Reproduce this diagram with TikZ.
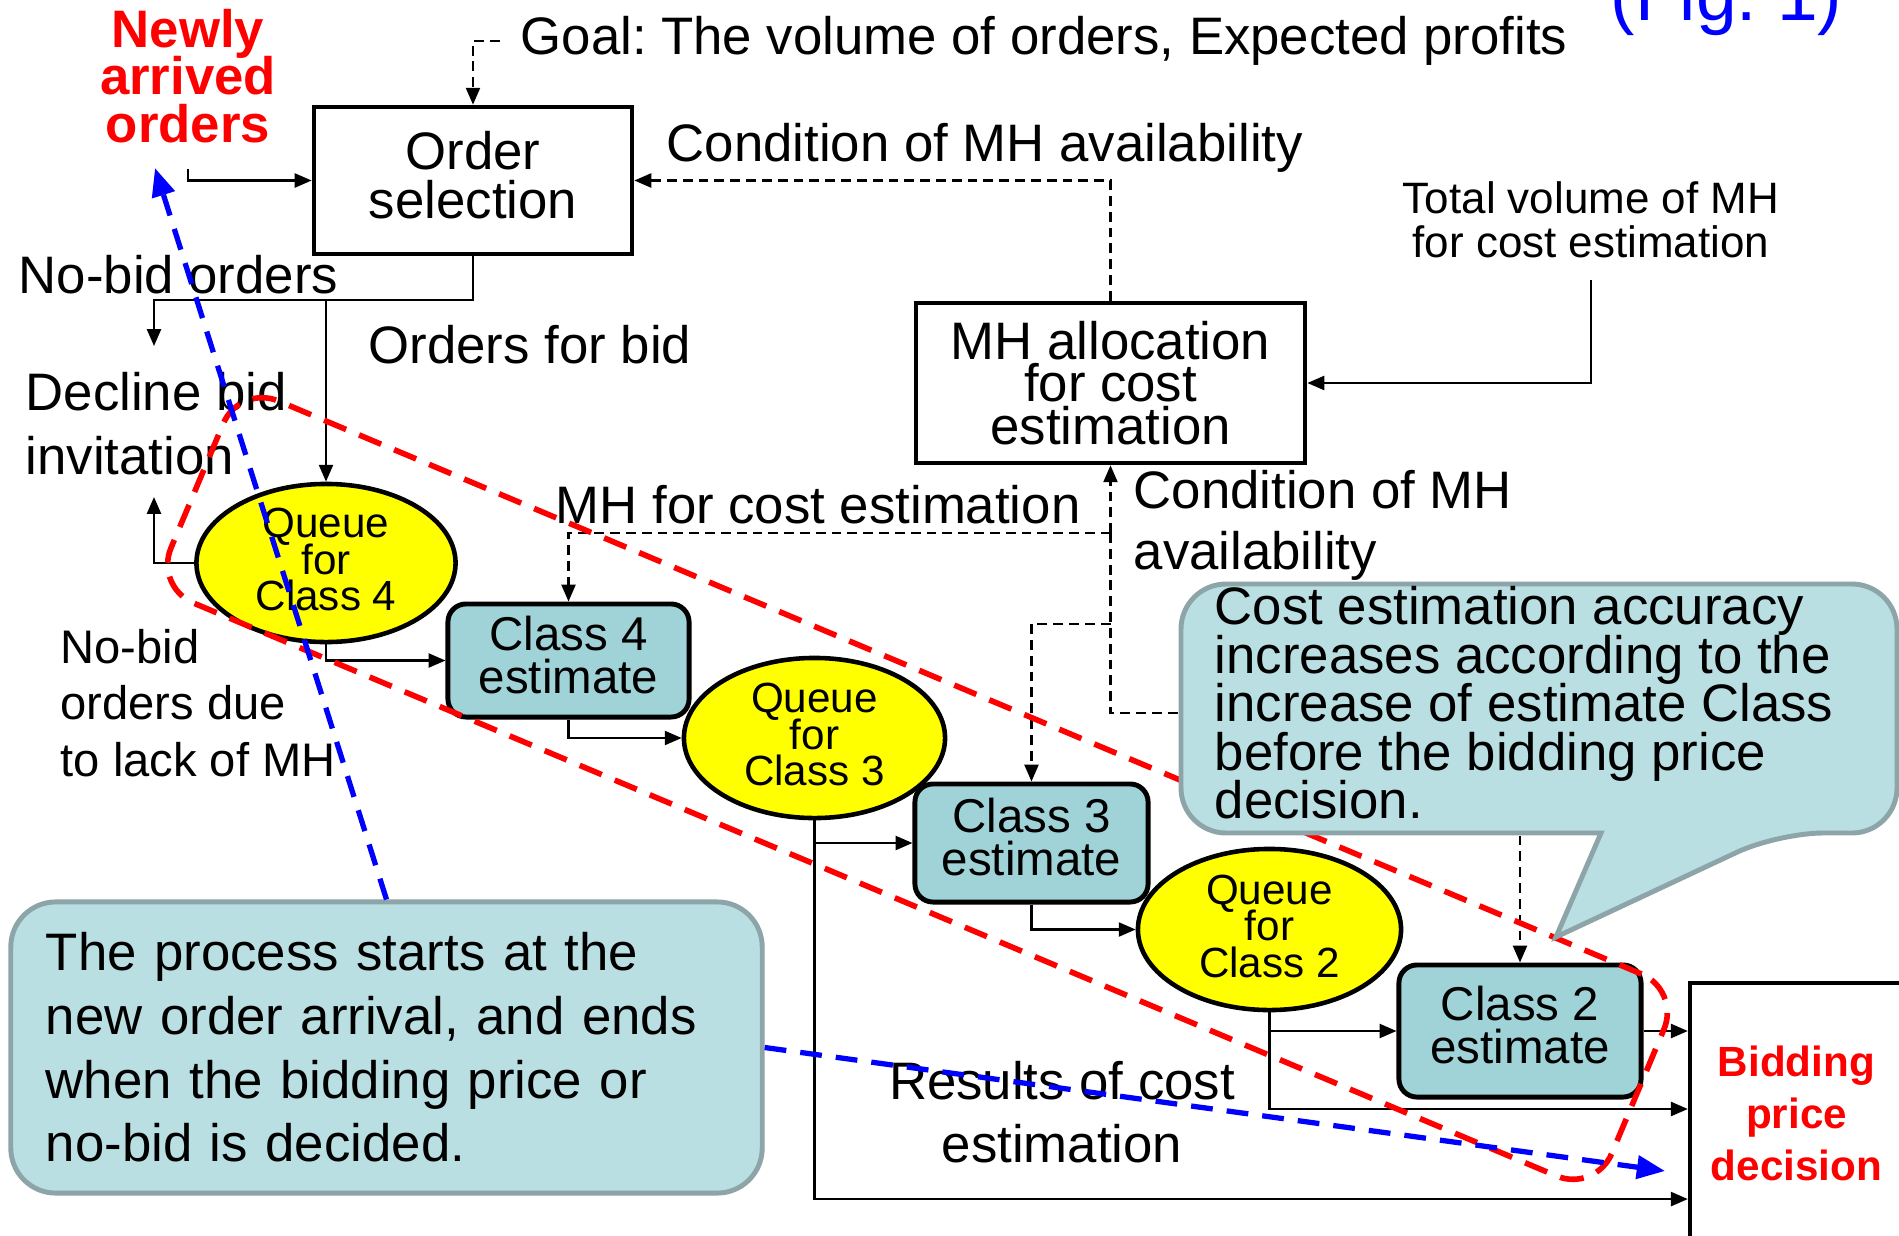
\documentclass[tikz,border=0pt]{standalone}
\usepackage{fontspec}
\setmainfont{Liberation Sans}
\usetikzlibrary{positioning,arrows.meta,shapes.geometric}
\definecolor{qyellow}{HTML}{FFFF00}
\definecolor{estfill}{HTML}{9FD3D7}
\definecolor{callfill}{HTML}{B9DFE2}
\definecolor{callline}{HTML}{8DA5A8}
\newcommand{\tightlines}{\lineskiplimit=-20pt\relax}
\frenchspacing

\begin{document}
\begin{tikzpicture}[
  x=0.01cm, y=-0.01cm,
  every node/.style={inner sep=0pt, font=\fontsize{15}{18}\selectfont},
  procbox/.style={draw, line width=1.3pt, align=center},
  queue/.style={ellipse, draw, line width=1.3pt, fill=qyellow, align=center,
    text depth=0.07cm, font=\fontsize{12}{10.4}\selectfont\tightlines},
  estbox/.style={draw, line width=1.4pt, rounded corners=0.18cm, fill=estfill,
    align=center, text depth=0.12cm, font=\fontsize{13.5}{12.2}\selectfont\tightlines},
  flow/.style={line width=0.6pt, -{Triangle[length=4.8pt,width=4pt]}},
  dline/.style={line width=0.6pt, dash pattern=on 2.8pt off 1.7pt},
  dflow/.style={flow, dline},
  redzone/.style={draw=red, line width=1.6pt, dash pattern=on 6.8pt off 4pt},
  bluearrow/.style={draw=blue, line width=1.5pt, dash pattern=on 6.2pt off 4pt,
    -{Triangle[length=8pt,width=6.5pt]}},
  callbox/.style={draw=callline, fill=callfill, line width=1.4pt}
]

\path[use as bounding box, fill=white] (0,0) rectangle (1899,1236);

% process boxes
\node[procbox, minimum width=3.18cm, minimum height=1.47cm, text depth=0.12cm,
  font=\fontsize{15}{13.9}\selectfont\tightlines] (osel) at (473,180.5) {Order\\selection};
\node[procbox, minimum width=3.89cm, minimum height=1.60cm,
  font=\fontsize{15}{12.1}\selectfont\tightlines] (mhalloc) at (1110.5,383) {MH allocation\\for cost\\estimation};

% queues and estimates
\node[queue, minimum width=2.59cm, minimum height=1.58cm] (q4) at (326,563) {Queue\\for\\Class 4};
\node[estbox, minimum width=2.41cm, minimum height=1.13cm] (e4) at (568.5,660.5) {Class 4\\estimate};
\node[queue, minimum width=2.61cm, minimum height=1.60cm] (q3) at (814.5,738) {Queue\\for\\Class 3};
\node[estbox, minimum width=2.33cm, minimum height=1.18cm] (e3) at (1031.5,843) {Class 3\\estimate};
\node[queue, minimum width=2.63cm, minimum height=1.61cm] (q2) at (1269.5,929.5) {Queue\\for\\Class 2};
\node[estbox, minimum width=2.42cm, minimum height=1.32cm] (e2) at (1520,1031) {Class 2\\estimate};
\node[draw, line width=1.2pt, minimum width=2.13cm, minimum height=2.6cm, align=center,
  text=red, font=\bfseries\fontsize{12}{14.8}\selectfont] (bid) at (1796.5,1113) {Bidding\\price\\decision};

% labels
\node[text=red, align=center, font=\bfseries\fontsize{15}{13.5}\selectfont\tightlines] (neworders) at (188,76) {Newly\\arrived\\orders};
\node[anchor=west] (goal) at (520,41) {Goal: The volume of orders, Expected profits};
\node[anchor=base west, text=blue, font=\fontsize{20.8}{24}\selectfont] (figlabel) at (1610,20) {(Fig. 1)};
\node[anchor=west] (condtop) at (666,148) {Condition of MH availability};
\node[align=center, font=\fontsize{12.5}{12.5}\selectfont] (totalmh) at (1591,220) {Total volume of MH\\for cost estimation};
\node[anchor=west] (nobid) at (18,275) {No-bid orders};
\node[anchor=west] (forbid) at (368,345) {Orders for bid};
\node[anchor=west, align=left, font=\fontsize{15}{18.2}\selectfont] (decline) at (25,423.5) {Decline bid\\invitation};
\node[anchor=west] (mhcost) at (555,505) {MH for cost estimation};
\node[anchor=west, align=left, font=\fontsize{15}{17.3}\selectfont] (condmid) at (1133,525.5) {Condition of MH\\availability};
\node[anchor=west, align=left, font=\fontsize{13.4}{16}\selectfont] (lackmh) at (60,703) {No-bid\\orders due\\to lack of MH};
\node[align=center, font=\fontsize{15}{17.9}\selectfont] (results) at (1062,1112) {Results of cost\\estimation};

% order selection
\coordinate (nobidtip) at (154,346);
\coordinate (bidsplit) at (473,300);
\coordinate (declinetip) at (154,497);
\draw[dflow] ([xshift=-0.2cm]goal.west) -| (osel.north);
\draw[flow] ([yshift=-0.25cm]neworders.south) |- (osel.west);
\draw[dflow] (mhalloc.north) |- (osel.east);
\draw[flow] ([yshift=-0.21cm]totalmh.south) |- (mhalloc.east);
\draw[flow] (osel.south) -- (bidsplit) -| (nobidtip);
\draw[flow] (q4.north |- bidsplit) -- (q4.north);
\draw[flow] (q4.west) -| (declinetip);

% MH allocation to the estimates
\coordinate (mhsplit) at (1110.5,533);
\coordinate (c3split) at (1110.5,624);
\coordinate (c2split) at (1110.5,713);
\draw[dflow] (mhsplit) -- (mhalloc.south);
\draw[dflow] (mhsplit) -| (e4.north);
\draw[dflow] (mhsplit) -- (c2split) -| (e2.north);
\draw[dflow] (c3split) -| (e3.north);

% estimate chain
\draw[flow] (q4.south) |- (e4.west);
\draw[flow] (e4.south) |- (q3.west);
\draw[flow] (q3.south) |- (e3.west);
\draw[flow] (q3.south) |- ([yshift=-0.86cm]bid.west);
\draw[flow] (e3.south) |- (q2.west);
\draw[flow] (q2.south) |- (e2.west);
\draw[flow] (q2.south) |- ([yshift=0.04cm]bid.west);
\draw[flow] (e2.east) -- (e2.east -| bid.west);

% highlighted band
\node[redzone, rounded corners=0.42cm, minimum width=15.62cm, minimum height=2.19cm,
  rotate=-22.8] (band) at (917.5,788.5) {};

% callouts
\draw[callbox, rounded corners=0.45cm] (1181,584) -- (1897,584) -- (1897,833) -- (1778,833)
  [sharp corners] -- (1556,937) -- (1601,833) [rounded corners=0.45cm] -- (1181,833) -- cycle;
\node[anchor=west, align=left, font=\fontsize{15}{13.8}\selectfont\tightlines] (accnote) at (1214,703)
  {Cost estimation accuracy\\increases according to the\\increase of estimate Class\\before the bidding price\\decision.};
\node[callbox, rounded corners=0.45cm, minimum height=2.91cm, text width=6.81cm,
  inner xsep=0.35cm, align=left, font=\fontsize{15}{18.1}\selectfont] (procnote) at (386.5,1047.5)
  {The process starts at the\\new order arrival, and ends\\when the bidding price or\\no-bid is decided.};

\coordinate (arrivaltip) at (155,168);
\coordinate (decisiontip) at (1665,1171);
\draw[bluearrow] (procnote.north) -- (arrivaltip);
\draw[bluearrow] (procnote.east) -- (decisiontip);

\end{tikzpicture}
\end{document}
